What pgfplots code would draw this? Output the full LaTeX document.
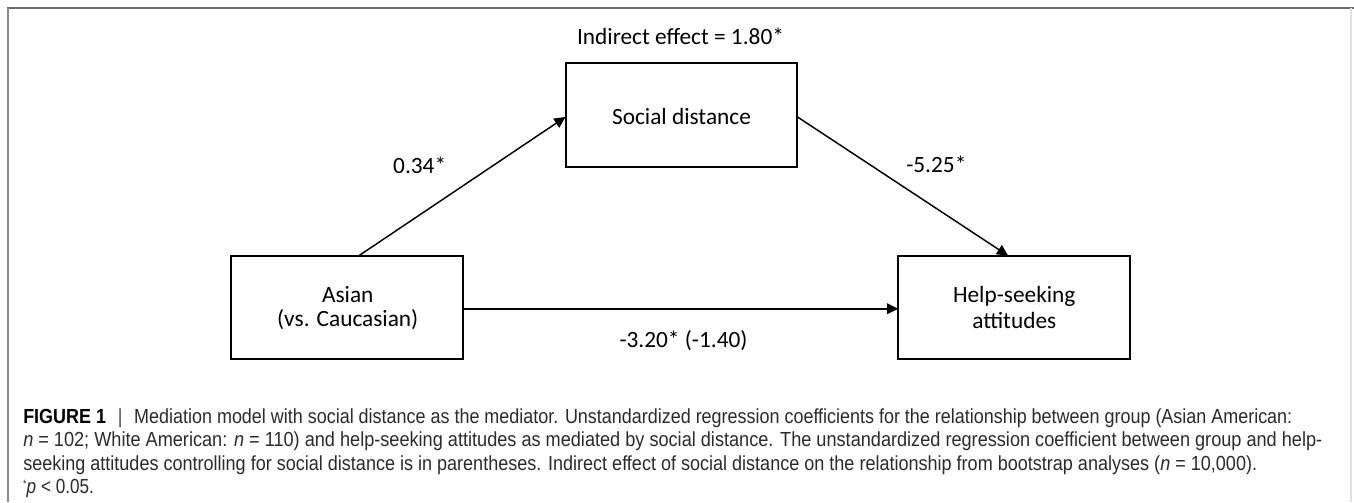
\documentclass[border=0pt]{standalone}
\usepackage{pgfplots}
\pgfplotsset{compat=1.18}
\usetikzlibrary{arrows.meta}
\usepackage{graphicx}
\usepackage{fontspec}
\setmainfont{Carlito}
\newfontfamily\capfont{Liberation Sans}[FakeStretch=0.84]
\definecolor{captxt}{HTML}{2B2B2B}
\begin{document}
\begin{tikzpicture}
\begin{axis}[
  width=1015.5pt, height=376.5pt, scale only axis,
  xmin=0, xmax=1354, ymin=0, ymax=502, y dir=reverse,
  hide axis, clip=false,
]
\addplot[draw=none] coordinates {(0,0) (1354,502)};
% frame
\addplot[color=black!58, line width=1.5pt, line cap=rect] coordinates {(8,8) (1354,8)};
\addplot[color=black!45, line width=1.1pt] coordinates {(8,8) (8,502)};
\addplot[color=black!12, line width=1.1pt] coordinates {(1352,8) (1352,502)};
% boxes
\addplot[black, line width=1.5pt, line cap=rect, line join=miter] coordinates {(566,63) (798,63) (798,167) (566,167) (566,63)};
\addplot[black, line width=1.5pt, line cap=rect, line join=miter] coordinates {(231,256) (463,256) (463,359) (231,359) (231,256)};
\addplot[black, line width=1.5pt, line cap=rect, line join=miter] coordinates {(899,256) (1131,256) (1131,359) (899,359) (899,256)};
% arrows
\addplot[black, line width=1.1pt, -{Triangle[length=8.5pt,width=8pt]}] coordinates {(359,256) (566,117)};
\addplot[black, line width=1.1pt, -{Triangle[length=8.5pt,width=8pt]}] coordinates {(798,117) (1009,256)};
\addplot[black, line width=1.1pt, -{Triangle[length=8.5pt,width=8pt]}] coordinates {(463,309) (899,309)};
% diagram labels
\begin{scope}[every node/.style={font=\fontsize{17.5}{21}\selectfont, anchor=base, inner sep=0pt}]
\node at (axis cs:681,44.5) {Indirect effect = 1.80*};
\node at (axis cs:682,124.5) {Social distance};
\node at (axis cs:420,173.5) {0.34*};
\node at (axis cs:937,172.5) {-5.25*};
\node at (axis cs:348,302.5) {Asian};
\node at (axis cs:348,326.5) {(vs. Caucasian)};
\node at (axis cs:1015,302.5) {Help-seeking};
\node at (axis cs:1015,328.5) {attitudes};
\node at (axis cs:684,347.5) {-3.20* (-1.40)};
\end{scope}
% caption
\begin{scope}[every node/.style={font=\capfont\fontsize{15.3}{18}\selectfont, anchor=base west, inner sep=0pt, text=captxt}]
\node at (axis cs:23,424) {\resizebox{952.5pt}{\height}{\textbf{\color{black}FIGURE 1}\hspace{0.55em}{\color{black!70}|}\hspace{0.55em}Mediation model with social distance as the mediator. Unstandardized regression coefficients for the relationship between group (Asian American:}};
\node at (axis cs:23,447) {\resizebox{975pt}{\height}{\textit{n} = 102; White American: \textit{n} = 110) and help-seeking attitudes as mediated by social distance. The unstandardized regression coefficient between group and help-}};
\node at (axis cs:23,470.5) {\resizebox{926pt}{\height}{seeking attitudes controlling for social distance is in parentheses. Indirect effect of social distance on the relationship from bootstrap analyses (\textit{n} = 10,000).}};
\node at (axis cs:23,494) {\raisebox{0.55ex}{\fontsize{8}{9}\selectfont *}\textit{p} {\textless} 0.05.};
\end{scope}
\end{axis}
\end{tikzpicture}
\end{document}
